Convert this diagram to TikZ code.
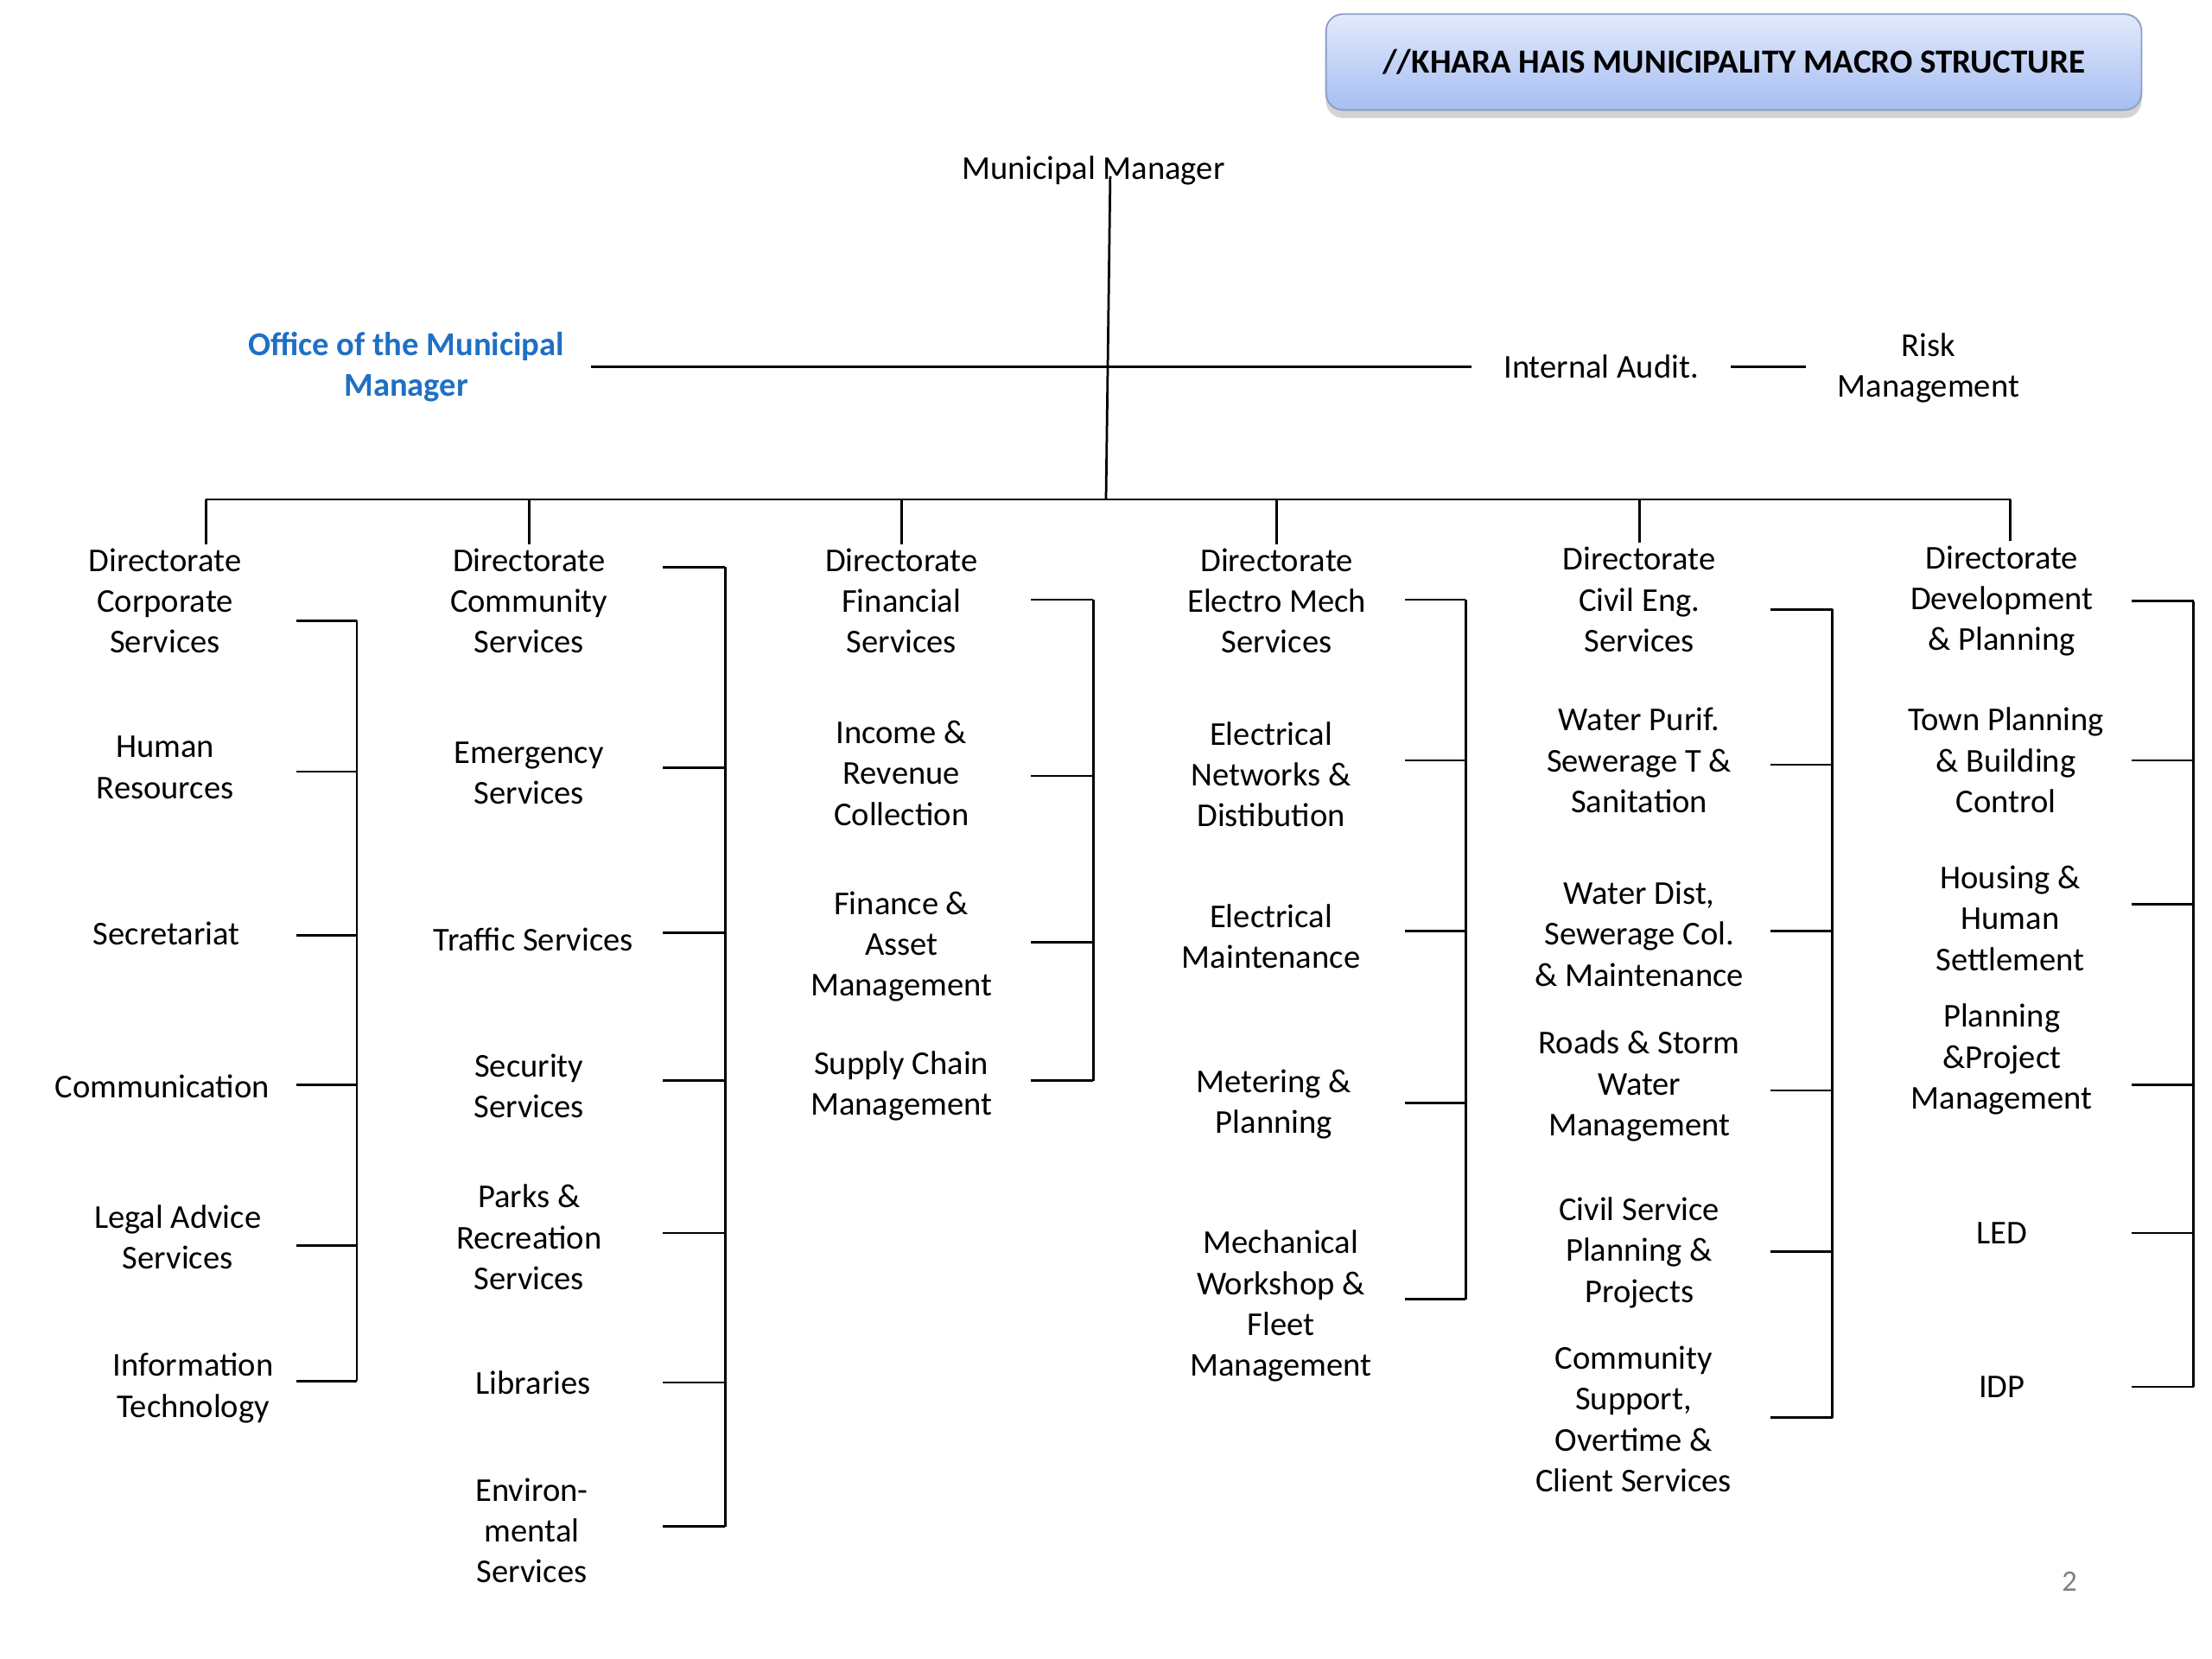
\documentclass[tikz,border=0pt]{standalone}
\usepackage{fontspec}
\setmainfont{Carlito}
\usepackage{tikz}
\usetikzlibrary{calc}
\usetikzlibrary{shadows}
\usetikzlibrary{positioning}
\definecolor{officeblue}{RGB}{31,112,196}
\definecolor{titletop}{RGB}{226,233,251}
\definecolor{titlebot}{RGB}{166,190,242}
\definecolor{titleline}{RGB}{140,158,200}
\tikzstyle{unit}=[align=center,inner sep=1pt,font=\fontsize{16.8}{20.6}\selectfont]
\tikzstyle{staff}=[unit,inner xsep=0.55cm]
\tikzstyle{office}=[unit,inner xsep=0.45cm,text=officeblue,font=\fontsize{16.8}{20.6}\selectfont\bfseries]
\tikzstyle{titlebox}=[draw=titleline,line width=0.8pt,rounded corners=0.3cm,top color=titletop,
                bottom color=titlebot,minimum width=14.45cm,minimum height=1.7cm,
                font=\fontsize{17}{20}\selectfont\bfseries,
                drop shadow={shadow xshift=0pt,shadow yshift=-4pt,opacity=0.35}]
\tikzstyle{link}=[line width=1.2pt]

\begin{document}
\begin{tikzpicture}[x=0.025cm,y=-0.025cm,link]
\useasboundingbox (0,0) rectangle (1568,1176);
\node[titlebox] (title) at (1229,44) {//KHARA HAIS MUNICIPALITY MACRO STRUCTURE};
\node[unit] (mm) at (775,121) {Municipal Manager};
\node[office] (off) at (288,260) {Office of the Municipal\\Manager};
\node[staff] (ia) at (1135,260) {Internal Audit.};
\node[staff] (risk) at (1367,261) {Risk\\Management};
\node[unit,text=black!50,font=\fontsize{15}{18}\selectfont] (page) at (1467,1121) {2};

% directorates
\node[unit] (cs) at (117,426) {Directorate\\Corporate\\Services};
\node[unit] (cm) at (375,426) {Directorate\\Community\\Services};
\node[unit] (fs) at (639,426) {Directorate\\Financial\\Services};
\node[unit] (em) at (905,426) {Directorate\\Electro Mech\\Services};
\node[unit] (ce) at (1162,425) {Directorate\\Civil Eng.\\Services};
\node[unit] (dp) at (1419,426) {Directorate\\Development\\\& Planning};

% corporate
\node[unit] (hr) at (117,544) {Human\\Resources};
\node[unit] (sec) at (118,662) {Secretariat};
\node[unit] (com) at (115,770) {Communication};
\node[unit] (legal) at (126,877) {Legal Advice\\Services};
\node[unit] (it) at (137,984) {Information\\Technology};
% community
\node[unit] (emg) at (375,548) {Emergency\\Services};
\node[unit] (traf) at (378,666) {Traffic Services};
\node[unit] (secu) at (375,770) {Security\\Services};
\node[unit] (parks) at (375,877) {Parks \&\\Recreation\\Services};
\node[unit] (lib) at (378,980) {Libraries};
\node[unit] (env) at (377,1085) {Environ-\\mental\\Services};
% financial
\node[unit] (inc) at (639,548) {Income \&\\Revenue\\Collection};
\node[unit] (fin) at (639,671) {Finance \&\\Asset\\Management};
\node[unit] (scm) at (639,770) {Supply Chain\\Management};
% electro mech
\node[unit] (net) at (901,549) {Electrical\\Networks \&\\Distibution};
\node[unit] (maint) at (901,664) {Electrical\\Maintenance};
\node[unit] (met) at (903,783) {Metering \&\\Planning};
\node[unit] (mech) at (908,926) {Mechanical\\Workshop \&\\Fleet\\Management};
% civil eng
\node[unit] (pur) at (1162,539) {Water Purif.\\Sewerage T \&\\Sanitation};
\node[unit] (wd) at (1162,662) {Water Dist,\\Sewerage Col.\\\& Maintenance};
\node[unit] (roads) at (1162,770) {Roads \& Storm\\Water\\Management};
\node[unit] (csp) at (1162,888) {Civil Service\\Planning \&\\Projects};
\node[unit] (csup) at (1158,1006) {Community\\Support,\\Overtime \&\\Client Services};
% development
\node[unit] (town) at (1422,539) {Town Planning\\\& Building\\Control};
\node[unit] (hous) at (1425,651) {Housing \&\\Human\\Settlement};
\node[unit] (ppm) at (1419,751) {Planning\\\&Project\\Management};
\node[unit] (led) at (1419,874) {LED};
\node[unit] (idp) at (1419,983) {IDP};

% top of the tree
\coordinate (mmtop) at ($(mm.center)+(12,4)$);
\coordinate (hub) at (784,354);
\draw (mmtop) -- (hub);
\draw (off.east) -- (ia.west);
\draw (ia.east) -- (risk.west |- ia.east);
\foreach \n/\dx in {cs/29,cm/0,fs/0,em/0,ce/0,dp/6}{
  \coordinate (d-\n) at ($(\n.north)+(\dx,-1)$);
  \draw (d-\n) -- (d-\n |- hub);
}
\draw (d-cs |- hub) -- (d-dp |- hub);

% brackets
\coordinate (L1) at (210,0); \coordinate (R1) at (253,0);
\coordinate (L2) at (470,0); \coordinate (R2) at (514,0);
\coordinate (L3) at (731,0); \coordinate (R3) at (775,0);
\coordinate (L4) at (996,0); \coordinate (R4) at (1039,0);
\coordinate (L5) at (1255,0); \coordinate (R5) at (1299,0);
\coordinate (L6) at (1511,0); \coordinate (R6) at (1555,0);
\foreach \n/\d/\c in {cs/14/1,hr/3/1,sec/1/1,com/-1/1,legal/6/1,it/-5/1,
    cm/-24/2,emg/-4/2,traf/-5/2,secu/-4/2,parks/-3/2,lib/0/2,env/-3/2,
    fs/-1/3,inc/2/3,fin/-3/3,scm/-4/3,
    em/-1/4,net/-10/4,maint/-4/4,met/-1/4,mech/-5/4,
    ce/7/5,pur/3/5,wd/-2/5,roads/3/5,csp/-1/5,csup/-1/5,
    dp/0/6,town/0/6,hous/-10/6,ppm/18/6,led/0/6,idp/0/6}{
  \coordinate (t-\n) at ($(\n.center)+(0,\d)$);
  \draw (t-\n -| L\c) -- (t-\n -| R\c);
}
\draw (t-cs -| R1) -- (t-it -| R1);
\draw (t-cm -| R2) -- (t-env -| R2);
\draw (t-fs -| R3) -- (t-scm -| R3);
\draw (t-em -| R4) -- (t-mech -| R4);
\draw (t-ce -| R5) -- (t-csup -| R5);
\draw (t-dp -| R6) -- (t-idp -| R6);
\end{tikzpicture}
\end{document}
